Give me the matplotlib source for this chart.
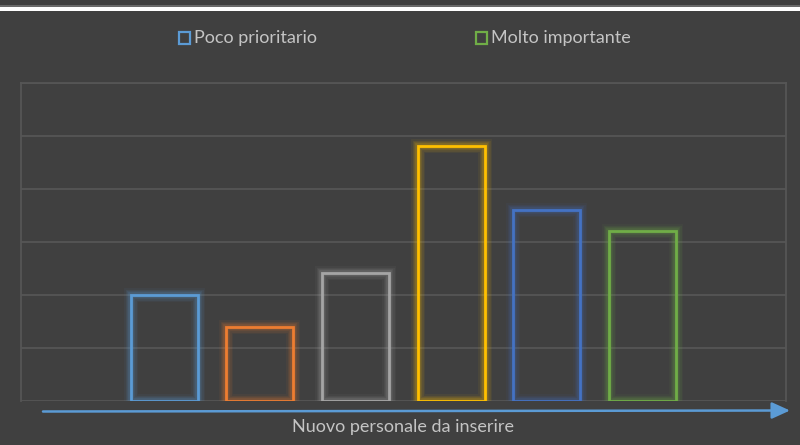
import matplotlib
matplotlib.use("Agg")
import matplotlib.pyplot as plt
from matplotlib.patches import Rectangle

# ---- data ----
categories = ["A", "B", "C", "D", "E", "F"]
values = [2.0, 1.4, 2.42, 4.81, 3.6, 3.21]
bar_colors = ["#5b9bd5", "#ed7d31", "#a5a5a5", "#ffc000", "#4472c4", "#70ad47"]
legend_labels = ["Poco prioritario", "Molto importante"]
legend_colors = ["#5b9bd5", "#70ad47"]
x_label = "Nuovo personale da inserire"
y_max = 6

BG = "#404040"
GRID = "#565656"
TXT = "#c4c4c4"
W, H = 800, 445

plt.rcParams['font.family'] = ['Lato', 'DejaVu Sans']

fig = plt.figure(figsize=(W / 100, H / 100), dpi=100)
fig.patch.set_facecolor(BG)

def fx(px):
    return px / W

def fy(py):
    return 1 - py / H

# top strip: thin gray line + white band
fig.patches.append(Rectangle((0, fy(7)), 1, fy(5.5) - fy(7), transform=fig.transFigure,
                             facecolor="#6a6a6a", edgecolor="none"))
fig.patches.append(Rectangle((0, fy(11)), 1, fy(7) - fy(11), transform=fig.transFigure,
                             facecolor="#ffffff", edgecolor="none"))

left, right, top, bottom = 20.7, 786, 83, 401
ax = fig.add_axes([fx(left), fy(bottom), fx(right - left), fy(top) - fy(bottom)])
ax.set_facecolor(BG)
ax.set_xlim(-1.5, len(categories) + 0.5)
ax.set_ylim(0, y_max)
ax.set_yticks(range(0, y_max + 1))
ax.set_xticks([])
ax.tick_params(left=False, labelleft=False)
ax.grid(axis='y', color=GRID, linewidth=1.3)
ax.set_axisbelow(True)
for s in ["left", "right", "top"]:
    ax.spines[s].set_color(GRID)
    ax.spines[s].set_linewidth(1.3)
ax.spines["bottom"].set_visible(False)

xs = list(range(len(categories)))
width = 0.70
# glow
for lw, a in [(10, 0.06), (8, 0.08), (6, 0.11), (4, 0.16)]:
    ax.bar(xs, values, width=width, facecolor="none", edgecolor=bar_colors,
           linewidth=lw, alpha=a, zorder=2)
ax.bar(xs, values, width=width, facecolor="none", edgecolor=bar_colors,
       linewidth=2, zorder=3)

# legend
leg_items = [(179, 194), (476, 491)]
for (sx, tx), lab, col in zip(leg_items, legend_labels, legend_colors):
    fig.patches.append(Rectangle((fx(sx), fy(44)), fx(11), fy(32) - fy(44),
                                 transform=fig.transFigure, facecolor="none",
                                 edgecolor=col, linewidth=1.6))
    fig.text(fx(tx), fy(38.5), lab, color=TXT, fontsize=13, va="center", ha="left")

# arrow axis
ax.annotate("", xy=(790, H - 410.5), xytext=(43, H - 411.5),
            xycoords="figure pixels", textcoords="figure pixels",
            arrowprops=dict(arrowstyle="-|>,head_length=1.1,head_width=0.5",
                            color="#5b9bd5", lw=1.8, shrinkA=0, shrinkB=0),
            annotation_clip=False)

fig.text(fx(403), fy(427), x_label, color=TXT, fontsize=13, ha="center", va="center")

fig.savefig("out.png", dpi=100, facecolor=BG)
